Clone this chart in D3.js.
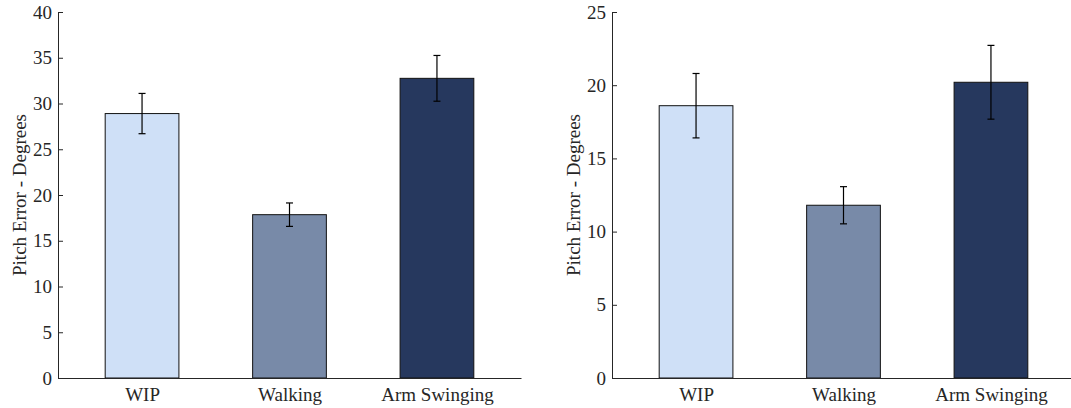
<!DOCTYPE html>
<html>
<head>
<meta charset="utf-8">
<script src="https://cdn.jsdelivr.net/npm/d3@7"></script>
<style>
  body { margin: 0; background: #fff; }
  svg { display: block; font-family: "Liberation Serif", "Times New Roman", serif; }
</style>
</head>
<body>
<div id="chart"></div>
<script>
// data
var categories = ["WIP", "Walking", "Arm Swinging"];
var barColors = ["#cfe0f7", "#788aa8", "#26385e"];

var leftMeans = [28.9, 17.85, 32.75];
var leftErr = [2.2, 1.28, 2.5];
var leftTicks = [0, 5, 10, 15, 20, 25, 30, 35, 40];

var rightMeans = [18.6, 11.8, 20.2];
var rightErr = [2.2, 1.27, 2.52];
var rightTicks = [0, 5, 10, 15, 20, 25];

var W = 1071, H = 408;
var axisColor = "#262626";
var font = "Liberation Serif, Times New Roman, serif";
var fs = "19px";

var svg = d3.select("#chart").append("svg")
    .attr("width", W)
    .attr("height", H);

function panel(x0, x1, means, errs, ticks) {
  var top = 12, bottom = 378;

  var x = d3.scaleLinear().domain([0.43, 3.57]).range([x0, x1]);
  var y = d3.scaleLinear().domain([0, d3.max(ticks)]).range([bottom, top]);

  var g = svg.append("g");

  // bars
  g.selectAll("rect.bar")
    .data(means)
    .enter().append("rect")
    .attr("class", "bar")
    .attr("x", function (d, i) { return x(i + 1 - 0.25); })
    .attr("width", function () { return x(1.25) - x(0.75); })
    .attr("y", function (d) { return y(d); })
    .attr("height", function (d) { return y(0) - y(d); })
    .style("fill", function (d, i) { return barColors[i]; })
    .style("stroke", "#111")
    .style("stroke-width", 1);

  // error bars
  var eb = g.selectAll("g.err")
    .data(means)
    .enter().append("g")
    .attr("class", "err");

  eb.append("line")
    .attr("x1", function (d, i) { return x(i + 1); })
    .attr("x2", function (d, i) { return x(i + 1); })
    .attr("y1", function (d, i) { return y(d + errs[i]); })
    .attr("y2", function (d, i) { return y(d - errs[i]); })
    .attr("stroke", "#000")
    .attr("stroke-width", 1.2);

  [1, -1].forEach(function (s) {
    eb.append("line")
      .attr("x1", function (d, i) { return x(i + 1) - 3.5; })
      .attr("x2", function (d, i) { return x(i + 1) + 3.5; })
      .attr("y1", function (d, i) { return y(d + s * errs[i]); })
      .attr("y2", function (d, i) { return y(d + s * errs[i]); })
      .attr("stroke", "#000")
      .attr("stroke-width", 1.2);
  });

  // y axis, ticks inward
  var ya = g.append("g")
    .attr("transform", "translate(" + x0 + ",0)")
    .call(d3.axisLeft(y).tickValues(ticks).tickSizeInner(-5).tickSizeOuter(0).tickPadding(6));
  ya.attr("font-family", font).attr("font-size", fs);
  ya.select(".domain").attr("stroke", axisColor);
  ya.selectAll(".tick line").attr("stroke", axisColor);
  ya.selectAll(".tick text").attr("fill", axisColor);

  // x axis
  var xa = g.append("g")
    .attr("transform", "translate(0," + bottom + ")")
    .call(d3.axisBottom(x).tickValues([1, 2, 3]).tickSize(0).tickPadding(10)
      .tickFormat(function (d) { return categories[d - 1]; }));
  xa.attr("font-family", font).attr("font-size", fs);
  xa.select(".domain").attr("stroke", axisColor);
  xa.selectAll(".tick text").attr("fill", axisColor);

  // y label
  g.append("text")
    .attr("transform", "translate(" + (x0 - 32) + "," + ((top + bottom) / 2) + ") rotate(-90)")
    .attr("text-anchor", "middle")
    .attr("font-family", font)
    .attr("font-size", fs)
    .style("fill", axisColor)
    .text("Pitch Error - Degrees");
}

panel(58, 521, leftMeans, leftErr, leftTicks);
panel(612, 1075, rightMeans, rightErr, rightTicks);
</script>
</body>
</html>
